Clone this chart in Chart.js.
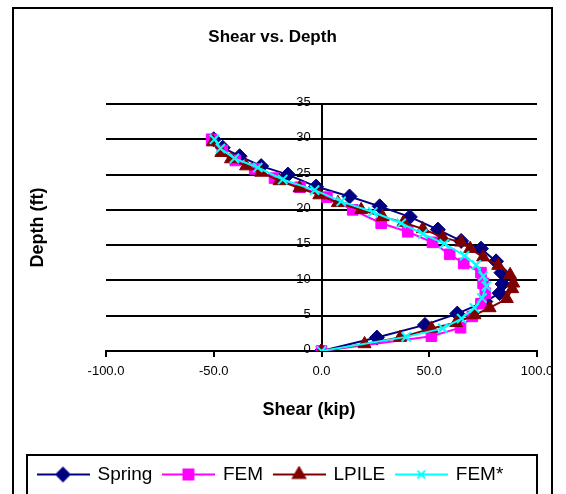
<!DOCTYPE html>
<html>
<head>
<meta charset="utf-8">
<script src="https://cdn.jsdelivr.net/npm/chart.js@4.4.1/dist/chart.umd.min.js"></script>
<style>
  html, body { margin: 0; padding: 0; background: #fff; }
  #wrap { position: relative; width: 566px; height: 494px; overflow: hidden; }
  #frame { position: absolute; left: 12px; top: 7px; width: 541px; height: 560px; border: 2px solid #000; box-sizing: border-box; }
  #grafico { position: absolute; left: 0; top: 0; }
</style>
</head>
<body>
<div id="wrap">
  <div id="frame"></div>
  <canvas id="grafico" width="566" height="494"></canvas>
</div>
<script>
// Datos: cortante (kip) contra profundidad (ft)
const seriesNames = ['Spring', 'FEM', 'LPILE', 'FEM*'];

const springShear = [0, 25.7, 48, 63, 76, 82.6, 84, 83.5, 81, 74, 64.8, 54, 41, 27, 13, -2.5, -15.6, -28, -38, -45.8, -50];
const springDepth = [0, 1.9, 3.7, 5.3, 7.0, 8.2, 9.5, 11.1, 12.7, 14.5, 15.6, 17.2, 19.0, 20.5, 21.9, 23.3, 25.0, 26.2, 27.6, 28.8, 30];

const femShear = [0, 51, 64.5, 70, 74, 76, 75, 74, 66, 59.5, 51.5, 40, 27.7, 14.5, 2.5, -10, -21.8, -31, -40, -46, -51];
const femDepth = [0, 2.1, 3.3, 4.9, 6.7, 8.2, 9.6, 11.1, 12.4, 13.7, 15.4, 16.9, 18.1, 20.0, 21.8, 23.2, 24.5, 25.8, 27.0, 28.4, 30];

const lpileShear = [0, 20, 36.5, 51, 62.5, 71, 78, 86, 88.5, 89, 87.5, 82, 75, 69, 64.8, 56.3, 47, 38, 28.4, 18.4, 7.6, -1, -10.2, -19.5, -28, -35, -42, -46.5, -50.4];
const lpileDepth = [0, 1.0, 1.9, 3.2, 4.0, 5.1, 6.1, 7.4, 8.8, 9.6, 10.8, 12.1, 13.3, 14.5, 15.4, 16.1, 17.3, 18.2, 19.0, 20.0, 21.0, 22.1, 23.1, 24.1, 25.3, 26.2, 27.2, 28.1, 29.6];

const femStarShear = [0, 39.3, 56.3, 65, 71, 74.5, 76.5, 75, 71.8, 66.4, 57, 47, 37, 23.8, 9.1, -3.2, -18, -29.6, -40.4, -46.9, -49.7];
const femStarDepth = [0, 2.0, 3.2, 4.6, 6.1, 7.5, 9.2, 10.6, 12.2, 13.5, 15.2, 16.6, 18.1, 19.7, 21.2, 22.8, 24.3, 26.0, 27.3, 28.7, 30.0];

const xTicks = [-100, -50, 0, 50, 100];
const yTicks = [0, 5, 10, 15, 20, 25, 30, 35];

const fuente = 'Arial, "Liberation Sans", sans-serif';
const nb = '\u00a0';

const estilos = [
  { color: '#000080', punto: 'rectRot', radio: 7.5, leyendaRadio: 6.5 },
  { color: '#FF00FF', punto: 'rect', radio: 7.5, leyendaRadio: 7 },
  { color: '#800000', punto: 'triangle', radio: 7.5, leyendaRadio: 7 },
  { color: '#00FFFF', punto: 'crossRot', radio: 6.5, leyendaRadio: 5.5 }
];

const pares = (xs, ys) => xs.map((x, i) => ({ x: x, y: ys[i] }));
const datosSeries = [
  pares(springShear, springDepth),
  pares(femShear, femDepth),
  pares(lpileShear, lpileDepth),
  pares(femStarShear, femStarDepth)
];

// Icono de leyenda: linea con marcador en el centro
function iconoLeyenda(estilo) {
  const c = document.createElement('canvas');
  c.width = 53;
  c.height = 18;
  const ctx = c.getContext('2d');
  ctx.strokeStyle = estilo.color;
  ctx.lineWidth = 2;
  ctx.beginPath();
  ctx.moveTo(0, 9);
  ctx.lineTo(53, 9);
  ctx.stroke();
  ctx.fillStyle = estilo.color;
  Chart.helpers.drawPoint(ctx, {
    pointStyle: estilo.punto,
    radius: estilo.leyendaRadio,
    rotation: 0,
    borderWidth: estilo.punto === 'crossRot' ? 2 : 1
  }, 26.5, 9);
  return c;
}

const iconos = estilos.map(iconoLeyenda);

const datasets = datosSeries.map((datos, i) => ({
  label: seriesNames[i],
  data: datos,
  showLine: true,
  borderColor: estilos[i].color,
  backgroundColor: estilos[i].color,
  borderWidth: 2,
  pointStyle: estilos[i].punto,
  pointRadius: estilos[i].radio,
  pointBorderWidth: estilos[i].punto === 'crossRot' ? 2 : 1,
  pointBorderColor: estilos[i].color,
  pointBackgroundColor: estilos[i].color,
  order: 4 - i
}));

// Borde alrededor de la leyenda
const bordeLeyenda = {
  id: 'bordeLeyenda',
  afterDraw(chart) {
    const l = chart.legend;
    const ctx = chart.ctx;
    ctx.save();
    ctx.strokeStyle = '#000';
    ctx.lineWidth = 2;
    ctx.strokeRect(l.left, l.top + 1, l.width, l.height + 20);
    ctx.restore();
  }
};

new Chart(document.getElementById('grafico'), {
  type: 'scatter',
  data: { datasets: datasets },
  plugins: [bordeLeyenda],
  options: {
    responsive: false,
    animation: false,
    layout: { padding: { left: 27, right: 29, top: 0, bottom: 0 } },
    plugins: {
      tooltip: { enabled: false },
      title: {
        display: true,
        text: 'Shear vs. Depth' + nb.repeat(4),
        color: '#000',
        font: { family: fuente, size: 17, weight: 'bold' },
        padding: { top: 27, bottom: 56.6 }
      },
      legend: {
        position: 'bottom',
        align: 'start',
        labels: {
          color: '#000',
          font: { family: fuente, size: 19 },
          usePointStyle: true,
          pointStyleWidth: 50,
          padding: 11,
          sort: (a, b) => a.datasetIndex - b.datasetIndex,
          generateLabels(chart) {
            const base = Chart.defaults.plugins.legend.labels.generateLabels(chart);
            base.forEach(item => { item.pointStyle = iconos[item.datasetIndex]; });
            return base;
          }
        }
      }
    },
    scales: {
      x: {
        type: 'linear',
        min: -100,
        max: 100,
        afterBuildTicks: s => { s.ticks = xTicks.map(v => ({ value: v })); },
        ticks: {
          color: '#000',
          font: { family: fuente, size: 13 },
          padding: 7,
          maxRotation: 0,
          callback: v => v.toFixed(1)
        },
        grid: { drawOnChartArea: false, drawTicks: true, tickLength: 6, color: '#000', lineWidth: 2 },
        border: { display: true, color: '#000', width: 2 },
        title: {
          display: true,
          text: 'Shear (kip)' + nb.repeat(5),
          color: '#000',
          font: { family: fuente, size: 18, weight: 'bold' },
          padding: { top: 4, bottom: 33 }
        },
        afterFit: s => { s.height = 103; }
      },
      y: {
        type: 'linear',
        min: 0,
        max: 35,
        position: { x: 0 },
        afterBuildTicks: s => { s.ticks = yTicks.map(v => ({ value: v })); },
        ticks: {
          color: '#000',
          font: { family: fuente, size: 13 },
          labelOffset: -1.5,
          callback: v => v + nb.repeat(3)
        },
        grid: { color: '#000', lineWidth: 2, drawTicks: false },
        border: { display: true, color: '#000', width: 2 }
      },
      yTitulo: {
        type: 'linear',
        position: 'left',
        min: 0,
        max: 35,
        ticks: { display: false },
        grid: { display: false },
        border: { display: false },
        title: {
          display: true,
          text: 'Depth (ft)',
          color: '#000',
          font: { family: fuente, size: 18, weight: 'bold' },
          padding: { top: 0, bottom: 0 }
        },
        afterFit: s => { s.width = 79; }
      }
    }
  }
});
</script>
</body>
</html>
